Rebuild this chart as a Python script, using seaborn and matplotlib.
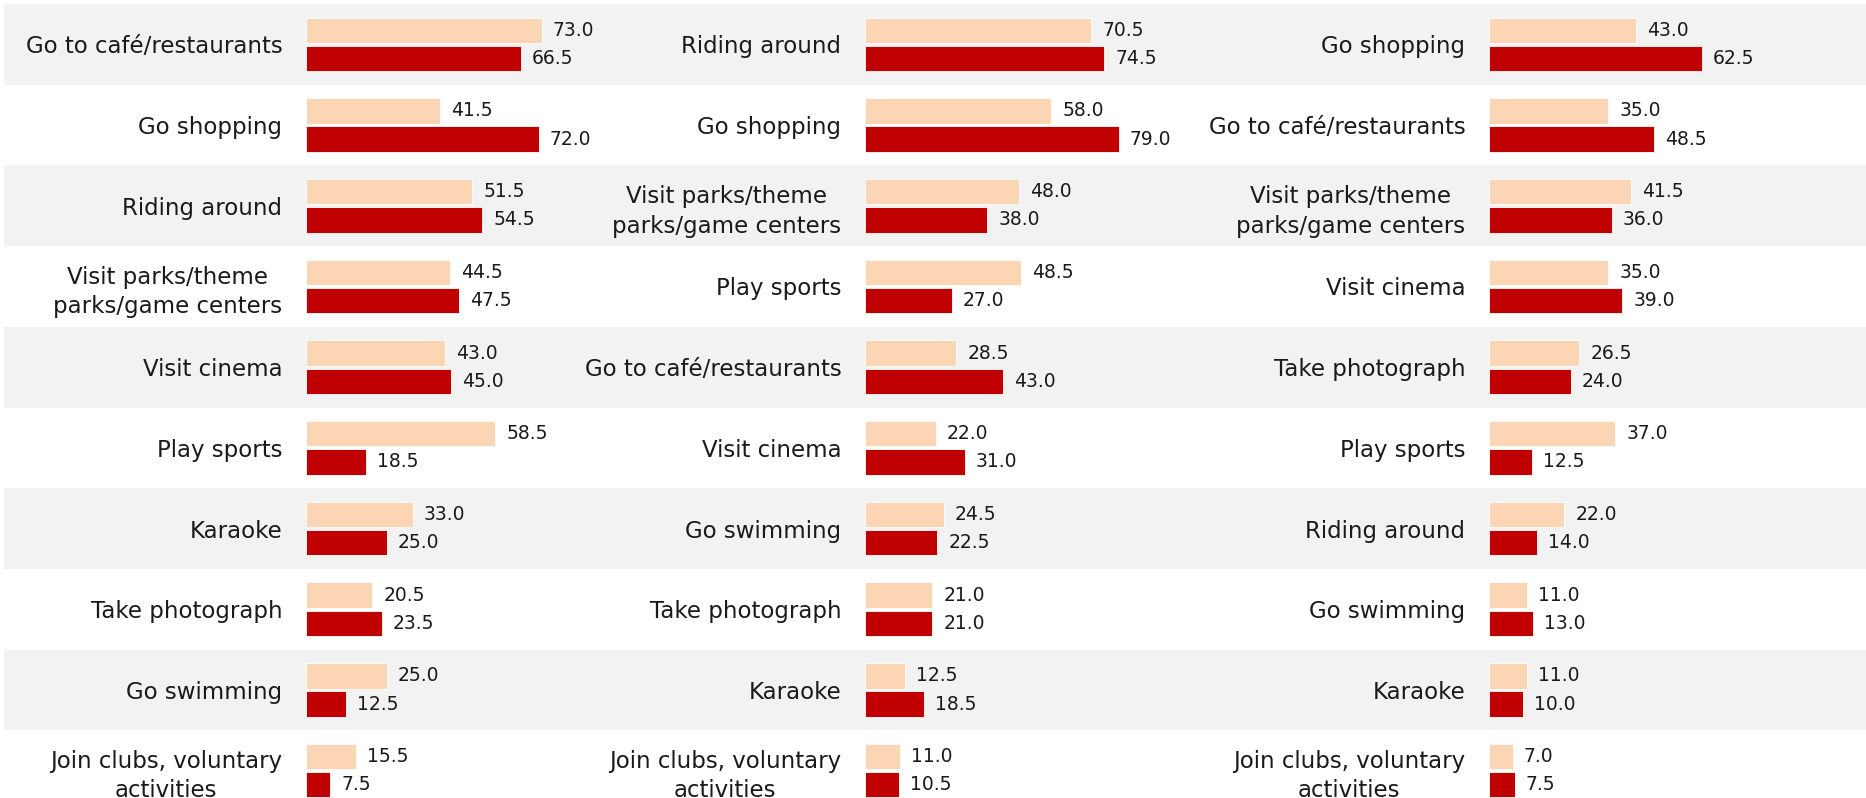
#### Grouped horizontal bars in three panels, with alternating row bands

import pandas as pd
import numpy as np
import matplotlib.pyplot as plt
import seaborn as sns

#### Data: one list of categories and two series per panel

cats_1 = ['Go to café/restaurants', 'Go shopping', 'Riding around',
          'Visit parks/theme\nparks/game centers', 'Visit cinema', 'Play sports',
          'Karaoke', 'Take photograph', 'Go swimming',
          'Join clubs, voluntary\nactivities']
light_1 = [73.0, 41.5, 51.5, 44.5, 43.0, 58.5, 33.0, 20.5, 25.0, 15.5]
dark_1 = [66.5, 72.0, 54.5, 47.5, 45.0, 18.5, 25.0, 23.5, 12.5, 7.5]

cats_2 = ['Riding around', 'Go shopping', 'Visit parks/theme\nparks/game centers',
          'Play sports', 'Go to café/restaurants', 'Visit cinema', 'Go swimming',
          'Take photograph', 'Karaoke', 'Join clubs, voluntary\nactivities']
light_2 = [70.5, 58.0, 48.0, 48.5, 28.5, 22.0, 24.5, 21.0, 12.5, 11.0]
dark_2 = [74.5, 79.0, 38.0, 27.0, 43.0, 31.0, 22.5, 21.0, 18.5, 10.5]

cats_3 = ['Go shopping', 'Go to café/restaurants',
          'Visit parks/theme\nparks/game centers', 'Visit cinema',
          'Take photograph', 'Play sports', 'Riding around', 'Go swimming',
          'Karaoke', 'Join clubs, voluntary\nactivities']
light_3 = [43.0, 35.0, 41.5, 35.0, 26.5, 37.0, 22.0, 11.0, 11.0, 7.0]
dark_3 = [62.5, 48.5, 36.0, 39.0, 24.0, 12.5, 14.0, 13.0, 10.0, 7.5]

series_names = ['light', 'dark']
colors = ['#FCD5B5', '#C00000']

sns.set_theme(style='white')
plt.rcParams['font.family'] = ['DejaVu Sans']

W, H = 1866, 798
top_px = 4
row_px = 80.7
ylim = (-0.5 + (H - top_px) / row_px, -0.5)

fig = plt.figure(figsize=(W / 100, H / 100), dpi=100)

#### Background row bands
bg = fig.add_axes([0, 0, 1, (H - top_px) / H])
bg.set_xlim(0, 1)
bg.set_ylim(ylim)
bg.axis('off')
for i in range(0, 10, 2):
    bg.axhspan(i - 0.5, i + 0.5, xmin=3 / 1568, xmax=1, color='#F2F2F2', lw=0)

#### Panels: left edge of bars (px) and px per unit
panels = [(cats_1, light_1, dark_1, 306, 3.23),
          (cats_2, light_2, dark_2, 865, 3.21),
          (cats_3, light_3, dark_3, 1489, 3.41)]
ax_w = 260

for cats, light, dark, left, scale in panels:
    df = pd.DataFrame({'category': cats * 2,
                       'value': light + dark,
                       'series': [series_names[0]] * len(cats) + [series_names[1]] * len(cats)})
    ax = fig.add_axes([left / W, 0, ax_w / W, (H - top_px) / H])
    ax.patch.set_alpha(0)
    sns.barplot(data=df, x='value', y='category', hue='series', order=cats,
                hue_order=series_names, palette=colors, saturation=1, orient='h',
                width=0.7, gap=0.1, edgecolor='white', linewidth=0.6,
                legend=False, ax=ax)
    for cont in ax.containers:
        ax.bar_label(cont, fmt='%.1f', padding=8, fontsize=13.5, color='#1a1a1a')
    ax.set_xlim(0, ax_w / scale)
    ax.set_ylim(ylim)
    ax.set_xlabel('')
    ax.set_ylabel('')
    ax.set_xticks([])
    ax.tick_params(axis='y', length=0, pad=17, labelsize=16.5, labelcolor='#1a1a1a')
    for lbl in ax.get_yticklabels():
        lbl.set_multialignment('center')
        lbl.set_linespacing(1.35)
    sns.despine(ax=ax, left=True, bottom=True)

plt.savefig('out.png', dpi=100)
